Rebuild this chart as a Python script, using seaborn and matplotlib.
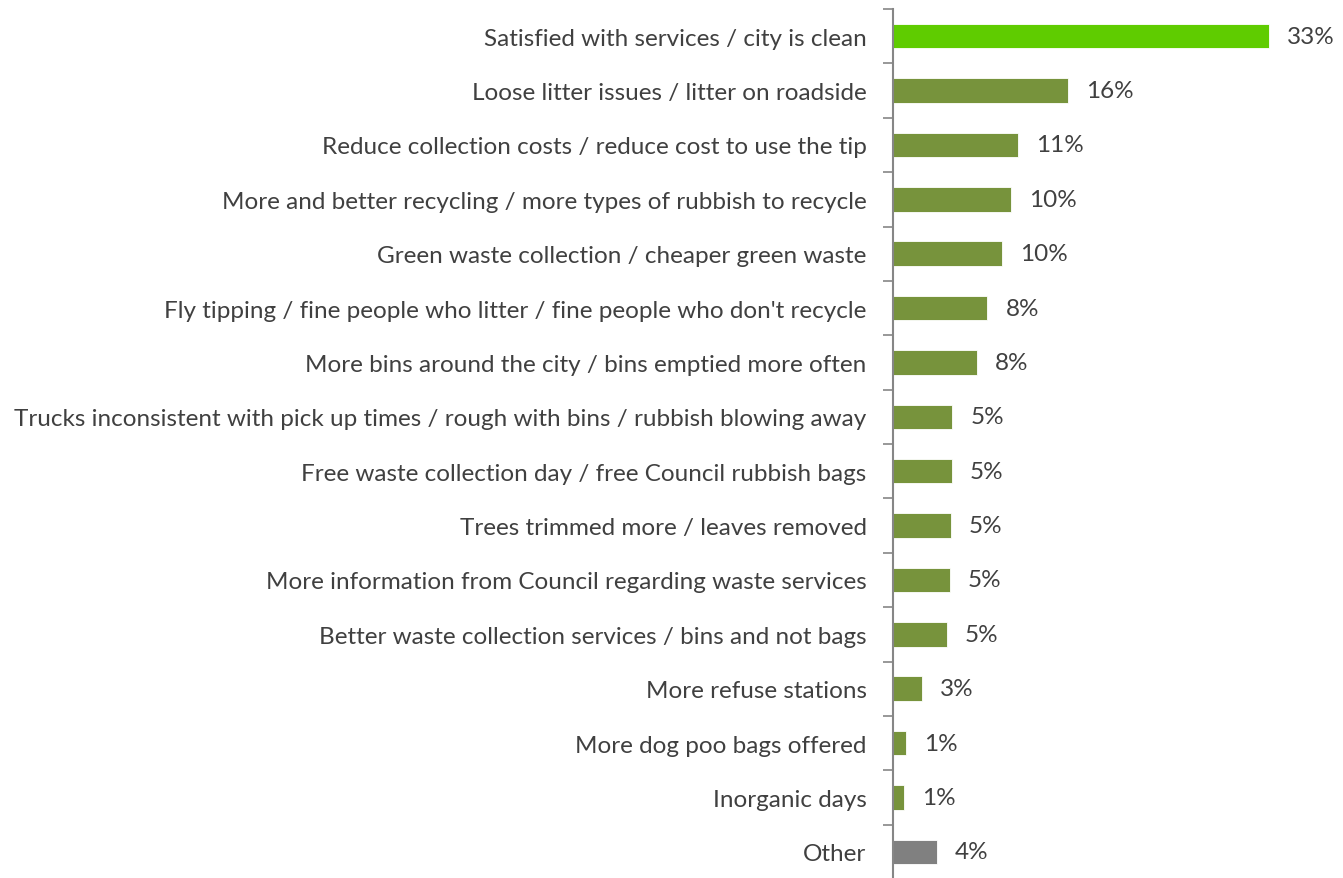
import matplotlib
matplotlib.use("Agg")
import matplotlib.pyplot as plt
import seaborn as sns
import numpy as np

categories = [
    "Satisfied with services / city is clean",
    "Loose litter issues / litter on roadside",
    "Reduce collection costs / reduce cost to use the tip",
    "More and better recycling / more types of rubbish to recycle",
    "Green waste collection / cheaper green waste",
    "Fly tipping / fine people who litter / fine people who don't recycle",
    "More bins around the city / bins emptied more often",
    "Trucks inconsistent with pick up times / rough with bins / rubbish blowing away",
    "Free waste collection day / free Council rubbish bags",
    "Trees trimmed more / leaves removed",
    "More information from Council regarding waste services",
    "Better waste collection services / bins and not bags",
    "More refuse stations",
    "More dog poo bags offered",
    "Inorganic days",
    "Other",
]
values = [33.0, 15.4, 11.0, 10.4, 9.6, 8.3, 7.4, 5.2, 5.15, 5.1, 5.0, 4.75, 2.55, 1.15, 0.94, 3.87]
value_labels = ["33%", "16%", "11%", "10%", "10%", "8%", "8%", "5%", "5%", "5%", "5%", "5%", "3%", "1%", "1%", "4%"]
bar_colors = ["#5FCC00"] + ["#77933C"] * 14 + ["#808080"]

sns.set_theme(style="white")
plt.rcParams["font.family"] = ["Lato", "DejaVu Sans"]

W, H = 1343, 879
fig = plt.figure(figsize=(W / 100, H / 100), dpi=100)
ax_left = 893 / W
ax_right = (893 + 36 * 11.38) / W
ax_top = (H - 10) / H
ax_bottom = (H - 880) / H
ax = fig.add_axes([ax_left, ax_bottom, ax_right - ax_left, ax_top - ax_bottom])

sns.barplot(x=values, y=categories, hue=categories, palette=bar_colors,
            legend=False, width=0.45, orient="h", ax=ax, saturation=1,
            edgecolor="#ffffff", linewidth=0.6)

ax.set_xlim(0, 36)
ax.set_ylim(15.5, -0.5)
ax.set_xticks([])
ax.set_xlabel("")
ax.set_ylabel("")

text_color = "#404040"
fs = 17.5
ax.tick_params(axis="y", which="major", length=0, pad=19, labelsize=fs, labelcolor=text_color)
ax.set_yticks(np.arange(-0.5, 16, 1), minor=True)
ax.tick_params(axis="y", which="minor", length=7, width=1.2, color="#868686", left=True)

for s in ["top", "right", "bottom"]:
    ax.spines[s].set_visible(False)
ax.spines["left"].set_color("#868686")
ax.spines["left"].set_linewidth(1.5)

for i, cont in enumerate(ax.containers):
    ax.bar_label(cont, labels=[value_labels[i]] * len(cont), padding=13,
                 fontsize=fs, color=text_color)

fig.savefig("out.png", dpi=100)
